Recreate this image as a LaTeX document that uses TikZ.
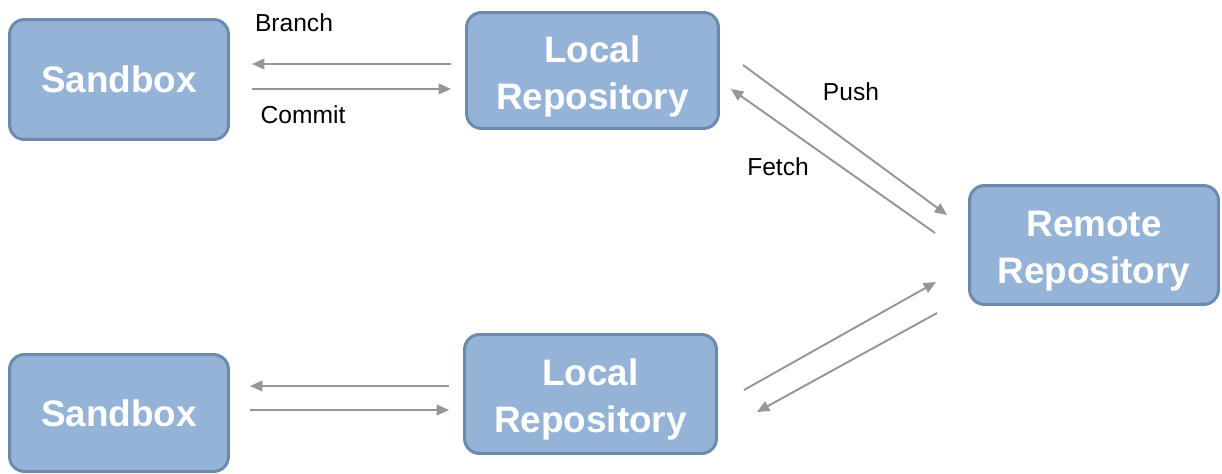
\documentclass[tikz,border=0pt]{standalone}
\usepackage{fontspec}
\setmainfont{Liberation Sans}
\usetikzlibrary{arrows.meta,positioning}
\definecolor{boxfill}{RGB}{149,179,215}
\definecolor{boxline}{RGB}{108,138,174}
\definecolor{linkgray}{RGB}{150,150,150}
\begin{document}
\begin{tikzpicture}[x=0.02cm,y=-0.02cm,>={Triangle[length=7pt,width=6pt]}]
\tikzstyle{repo}=[draw=boxline,line width=1.7pt,rounded corners=0.3cm,fill=boxfill,align=center,text=white,font=\fontsize{21}{26.6}\selectfont\bfseries,inner sep=0pt]
\tikzstyle{tworow}=[repo,text height=44pt,text depth=0pt]
\tikzstyle{link}=[->,draw=linkgray,line width=1.1pt]
\tikzstyle{tag}=[font=\fontsize{14}{17}\selectfont,inner sep=0pt]
\useasboundingbox (0,0) rectangle (1222,473);
\node[repo,minimum width=4.38cm,minimum height=2.4cm] (sbtop) at (119,79.5) {Sandbox};
\node[tworow,minimum width=5.04cm,minimum height=2.32cm] (lrtop) at (592.5,70.5) {Local\\Repository};
\node[tworow,minimum width=4.98cm,minimum height=2.38cm] (remote) at (1094,245) {Remote\\Repository};
\node[tworow,minimum width=5.04cm,minimum height=2.38cm] (lrbot) at (590.5,394) {Local\\Repository};
\node[repo,minimum width=4.38cm,minimum height=2.34cm] (sbbot) at (119,413) {Sandbox};
% sandbox <-> local (top)
\draw[link] ([shift={(-14,-6.5)}]lrtop.west) -- ([shift={(22,-15.5)}]sbtop.east);
\draw[link] ([shift={(22,9.5)}]sbtop.east) -- ([shift={(-14,18.5)}]lrtop.west);
\node[tag] (branch) at (294,23) {Branch};
\node[tag] (commit) at (303,115) {Commit};
% local (top) <-> remote
\draw[link] ([shift={(23,-5.5)}]lrtop.east) -- ([shift={(-21,-30)}]remote.west);
\draw[link] ([shift={(-33,-12)}]remote.west) -- ([shift={(11,18.5)}]lrtop.east);
\node[tag] (push) at (851,92) {Push};
\node[tag] (fetch) at (778,167) {Fetch};
% local (bottom) <-> remote
\draw[link] ([shift={(26,-4)}]lrbot.east) -- ([shift={(-32,37)}]remote.west);
\draw[link] ([shift={(-31,68)}]remote.west) -- ([shift={(39,18)}]lrbot.east);
% sandbox <-> local (bottom)
\draw[link] ([shift={(-14,-8)}]lrbot.west) -- ([shift={(20,-27)}]sbbot.east);
\draw[link] ([shift={(20,-3)}]sbbot.east) -- ([shift={(-14,16)}]lrbot.west);
\end{tikzpicture}
\end{document}
